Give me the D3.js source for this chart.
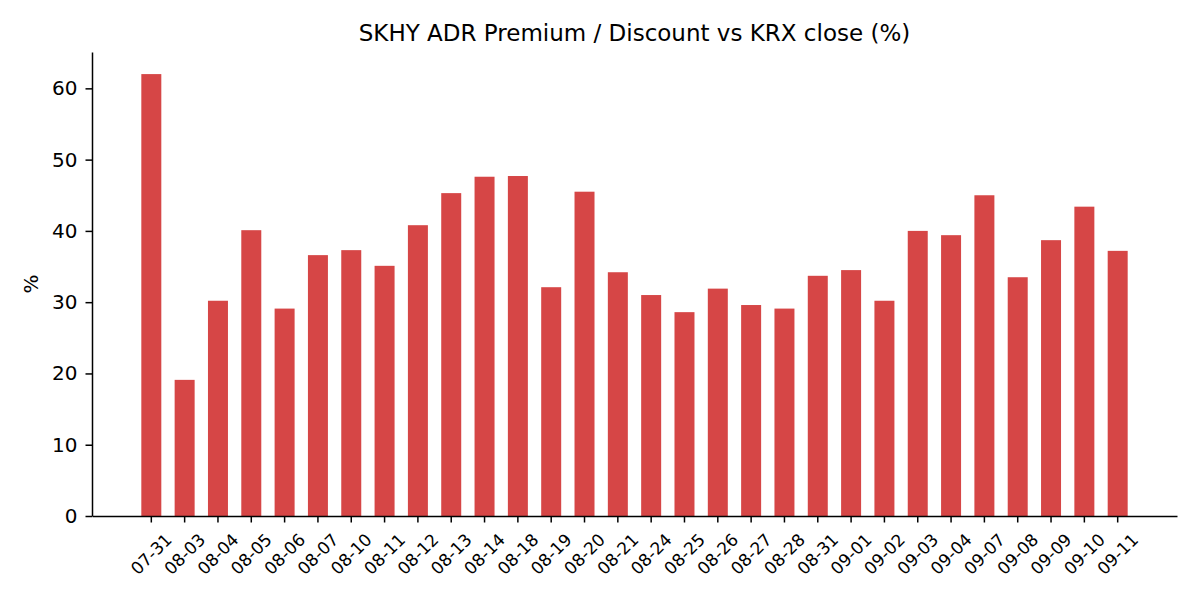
<!DOCTYPE html>
<html>
<head>
<meta charset="utf-8">
<script src="https://cdn.jsdelivr.net/npm/d3@7"></script>
<style>
  body { margin: 0; background: #fff; }
  svg { display: block; font-family: "DejaVu Sans", sans-serif; }
</style>
</head>
<body>
<svg id="chart"></svg>
<script>
const MARGIN = {
  top: 52,
  bottom: 84,
  left: 92,
  right: 23
};

const WIDTH = 1200;
const HEIGHT = 600;
const BAR_COLOR = '#d64646';
const TICK = 6.5;
const FONT_TICK = 20;
const FONT_XTICK = 17;
const FONT_TITLE = 23;

// dates of each session
const dates = [
  '07-31', '08-03', '08-04', '08-05', '08-06', '08-07',
  '08-10', '08-11', '08-12', '08-13', '08-14',
  '08-18', '08-19', '08-20', '08-21',
  '08-24', '08-25', '08-26', '08-27', '08-28',
  '08-31', '09-01', '09-02', '09-03', '09-04',
  '09-07', '09-08', '09-09', '09-10', '09-11'
];

// premium (%) of the ADR over the KRX close
const premium = [
  62.0, 19.1, 30.2, 40.1, 29.1, 36.6,
  37.3, 35.1, 40.8, 45.3, 47.6,
  47.7, 32.1, 45.5, 34.2,
  31.0, 28.6, 31.9, 29.6, 29.1,
  33.7, 34.5, 30.2, 40.0, 39.4,
  45.0, 33.5, 38.7, 43.4, 37.2
];

const yTicks = [0, 10, 20, 30, 40, 50, 60];

const width = WIDTH - MARGIN.left - MARGIN.right;
const height = HEIGHT - MARGIN.top - MARGIN.bottom;

const data = dates.map((d, i) => ({ date: d, value: premium[i] }));

const $svg = d3.select('#chart')
  .attr('width', WIDTH)
  .attr('height', HEIGHT);

const $g = $svg.append('g')
  .attr('transform', `translate(${MARGIN.left},${MARGIN.top})`);

function getScaleX() {
  return d3.scaleBand()
    .domain(dates)
    .range([0, width])
    .paddingInner(0.4)
    .paddingOuter(1.48);
}

function getScaleY() {
  return d3.scaleLinear()
    .domain([0, d3.max(premium) * 1.05])
    .range([height, 0]);
}

function draw() {
  const scaleX = getScaleX();
  const scaleY = getScaleY();

  //BARS
  $g.append('g')
    .attr('class', 'bars')
    .selectAll('rect')
    .data(data)
    .enter()
    .append('rect')
    .attr('x', d => scaleX(d.date))
    .attr('y', d => scaleY(d.value))
    .attr('width', scaleX.bandwidth())
    .attr('height', d => scaleY(0) - scaleY(d.value))
    .attr('fill', BAR_COLOR);

  //AXES
  const axisY = d3.axisLeft(scaleY)
    .tickValues(yTicks)
    .tickSize(TICK)
    .tickPadding(8)
    .tickSizeOuter(0);

  const $axisY = $g.append('g')
    .attr('class', 'axis--y')
    .call(axisY);

  $axisY.selectAll('text')
    .attr('font-size', FONT_TICK)
    .attr('font-family', '"DejaVu Sans", sans-serif')
    .attr('fill', '#000');

  const axisX = d3.axisBottom(scaleX)
    .tickSize(TICK)
    .tickSizeOuter(0)
    .tickFormat('');

  const $axisX = $g.append('g')
    .attr('class', 'axis--x')
    .attr('transform', `translate(0,${height})`)
    .call(axisX);

  // rotated labels, centred under each tick like matplotlib
  $axisX.selectAll('.tick')
    .append('text')
    .attr('transform', 'translate(0,38) rotate(-45)')
    .attr('text-anchor', 'middle')
    .attr('dominant-baseline', 'central')
    .attr('font-size', FONT_XTICK)
    .attr('font-family', '"DejaVu Sans", sans-serif')
    .attr('fill', '#000')
    .text(d => d);

  $g.selectAll('.domain, .tick line')
    .attr('stroke', '#000')
    .attr('stroke-width', 1.5);

  //TITLE + LABEL
  $svg.append('text')
    .attr('x', MARGIN.left + width / 2)
    .attr('y', 41)
    .attr('text-anchor', 'middle')
    .attr('font-size', FONT_TITLE)
    .attr('fill', '#000')
    .text('SKHY ADR Premium / Discount vs KRX close (%)');

  $svg.append('text')
    .attr('transform', `translate(31,${MARGIN.top + height / 2}) rotate(-90)`)
    .attr('text-anchor', 'middle')
    .attr('dominant-baseline', 'central')
    .attr('font-size', FONT_TICK)
    .attr('fill', '#000')
    .text('%');
}

draw();
</script>
</body>
</html>
